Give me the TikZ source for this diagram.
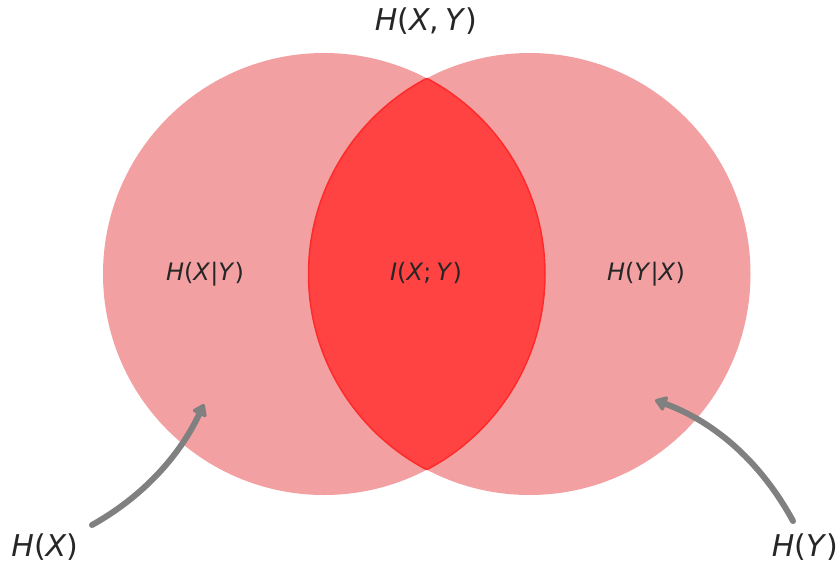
\documentclass[tikz,border=0pt]{standalone}
\usepackage{fontspec}
\setmainfont{DejaVu Sans}
\usepackage{tikz}
\usetikzlibrary{arrows.meta}
\definecolor{vennpink}{HTML}{F3A0A2}
\definecolor{vennred}{HTML}{FF4242}
\definecolor{vennedge}{HTML}{FF2B2B}
\definecolor{venntext}{HTML}{262626}
\definecolor{venngray}{HTML}{808080}
\newcommand{\rv}[1]{\textit{#1}}

\begin{document}
\begin{tikzpicture}[x=1pt,y=-1pt,
    big/.style={text=venntext,inner sep=0pt,anchor=base,font=\fontsize{30}{36}\selectfont},
    small/.style={text=venntext,inner sep=0pt,anchor=base,font=\fontsize{24}{29}\selectfont},
    arr/.style={-{Triangle[round,length=13pt,width=17pt]},line width=6pt,line cap=round,venngray},
  ]
    \useasboundingbox (0,0) rectangle (839,563);
    % sets
    \coordinate (cx) at (324,274);
    \coordinate (cy) at (529.5,274);
    \fill[vennpink] (cx) circle[radius=221];
    \fill[vennpink] (cy) circle[radius=221];
    \begin{scope}
      \clip (cx) circle[radius=221];
      \fill[vennred] (cy) circle[radius=221];
      \draw[vennedge,line width=1.5pt] (cy) circle[radius=221];
    \end{scope}
    \begin{scope}
      \clip (cy) circle[radius=221];
      \draw[vennedge,line width=1.5pt] (cx) circle[radius=221];
    \end{scope}

    \node[big]   (hxy) at (426,30)  {\rv{H}(\rv{X},\hspace{0.2em}\rv{Y})};
    \node[small] (hxgy) at (205,280) {\rv{H}(\rv{X}|\rv{Y})};
    \node[small] (ixy) at (426,280) {\rv{I}(\rv{X};\hspace{0.2em}\rv{Y})};
    \node[small] (hygx) at (646,280) {\rv{H}(\rv{Y}|\rv{X})};
    \node[big]   (hx) at (45,556)   {\rv{H}(\rv{X})};
    \node[big]   (hy) at (805,556)  {\rv{H}(\rv{Y})};

    \coordinate (hxtail) at (92,525);
    \coordinate (hxtip)  at (204,404);
    \coordinate (hytail) at (793,521);
    \coordinate (hytip)  at (655,400);
    \draw[arr] (hxtail) .. controls (142,497) and (179,457) .. (hxtip);
    \draw[arr] (hytail) .. controls (762,464) and (717,423) .. (hytip);
  \end{tikzpicture}
\end{document}
